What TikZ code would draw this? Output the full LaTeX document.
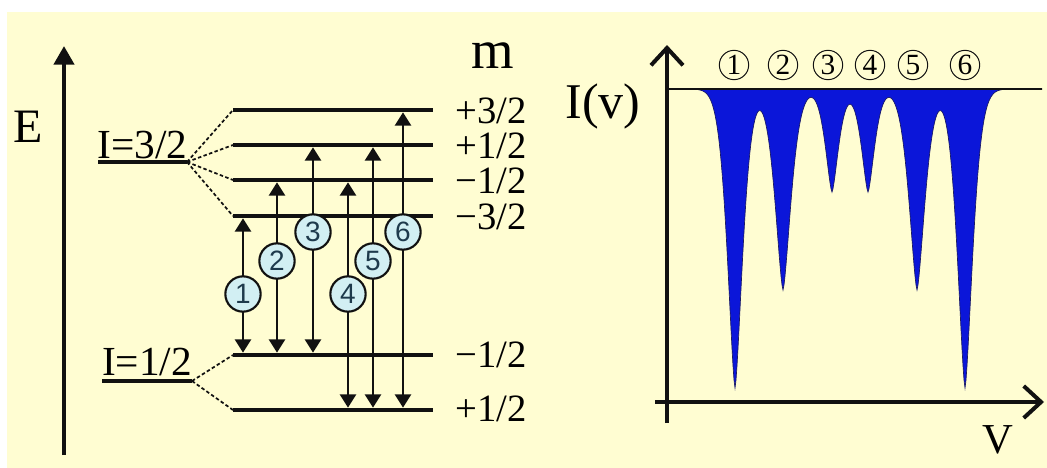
\documentclass[tikz,border=0pt]{standalone}
\usepackage{fontspec}
\setmainfont{Liberation Serif}
\setsansfont{Liberation Sans}
\usetikzlibrary{arrows.meta,positioning}
\definecolor{paper}{HTML}{FFFDD2}
\definecolor{ink}{HTML}{111111}
\definecolor{tagfill}{HTML}{D2EFF3}
\definecolor{tagink}{HTML}{1E3A4C}
\definecolor{specblue}{HTML}{0B16D9}
\definecolor{specedge}{HTML}{1A1A66}
\newcommand{\pxfont}[1]{\fontsize{#1}{#1}\selectfont}
\tikzset{
  level/.style={draw=ink,line width=3.5pt},
  uline/.style={draw=ink,line width=2.4pt},
  splitline/.style={draw=ink,line width=1.3pt,dash pattern=on 2.6pt off 1.8pt},
  trans/.style={{Triangle[length=10pt,width=12pt]}-{Triangle[length=10pt,width=12pt]},
                line width=2pt,draw=ink,shorten <=1.75pt,shorten >=1.75pt},
  tagcirc/.style={circle,draw=ink,line width=1.6pt,fill=tagfill,minimum size=26.5pt,
                  inner sep=0pt,font=\sffamily\pxfont{21}\color{tagink}},
  peaktag/.style={circle,draw=ink,line width=0.75pt,minimum size=22pt,inner sep=0pt,
                  font=\pxfont{22}},
  mlabel/.style={anchor=base west,inner sep=0pt,font=\pxfont{29}},
  biglabel/.style={anchor=base,inner sep=0pt},
  axisarr/.style={-{Straight Barb[length=13pt,width=24pt]},line width=3pt,draw=ink},
  declare function={dip(\vv,\cc,\dd,\aa)=\dd*exp(-min(abs(\vv-\cc)/\aa*sqrt(abs(\vv-\cc)/\aa),15));}
}

\begin{document}
\begin{tikzpicture}[x=0.75pt,y=-0.75pt]
  \useasboundingbox (0,0) rectangle (1047,468);
  \fill[white] (0,0) rectangle (1047,468);
  \fill[paper] (7,12) rectangle (1047,468);

  % energy axis
  \coordinate (ebot) at (64,455);
  \coordinate (etop) at (64,46);
  \draw[-{Triangle[length=14pt,width=15pt]},line width=3.2pt,draw=ink] (ebot) -- (etop);
  \node[biglabel,font=\pxfont{36}] (elbl) at (28,142) {E};
  \node[biglabel,font=\pxfont{41}] (mlbl) at (493,68) {m};

  % sublevels
  \coordinate (U1) at (233,110);
  \coordinate (U2) at (233,145);
  \coordinate (U3) at (233,180);
  \coordinate (U4) at (233,216);
  \coordinate (L1) at (233,355);
  \coordinate (L2) at (233,410);
  \coordinate (rr) at (433,0);
  \foreach \u in {U1,U2,U3,U4,L1,L2}
    \draw[level] (\u) -- (\u -| rr);

  \node[mlabel] (m1) at (455,123) {+3/2};
  \node[mlabel] (m2) at (455,158) {+1/2};
  \node[mlabel] (m3) at (455,193) {−1/2};
  \node[mlabel] (m4) at (455,229) {−3/2};
  \node[mlabel] (m5) at (455,367) {−1/2};
  \node[mlabel] (m6) at (455,421) {+1/2};

  % spin states and splitting
  \node[biglabel,font=\pxfont{31}] (i32) at (142.5,158) {I=3/2};
  \coordinate (a32) at (98,162);
  \coordinate (s32) at (187,162);
  \draw[uline] (a32) -- (s32);
  \node[biglabel,font=\pxfont{31}] (i12) at (147,375) {I=1/2};
  \coordinate (a12) at (102,381);
  \coordinate (s12) at (192,381);
  \draw[uline] (a12) -- (s12);
  \foreach \u in {U1,U2,U3,U4}
    \draw[splitline] (s32) -- (\u);
  \foreach \u in {L1,L2}
    \draw[splitline] (s12) -- (\u);

  % transitions
  \foreach \n/\xx/\lo/\hi/\ty in {1/243/L1/U4/294,2/277/L1/U3/261,3/313/L1/U2/232,
                                 4/348/L2/U3/294,5/373/L2/U2/261,6/403/L2/U1/232}{
    \coordinate (x\n) at (\xx,0);
    \draw[trans] (x\n |- \lo) -- (x\n |- \hi);
    \node[tagcirc] (t\n) at (\xx,\ty) {\n};
  }

  % spectrum
  \fill[specblue,draw=specedge,line width=0.5pt] (667,89)
    -- plot[domain=667:1042,samples=376]
       (\x,{89+dip(\x,735,299,11)+dip(\x,783,201,11.5)+dip(\x,832,103,9.5)
              +dip(\x,868,103,9.5)+dip(\x,917,201,11.5)+dip(\x,965,299,11)})
    -- (1042,89) -- cycle;
  \coordinate (b0) at (667,89);
  \coordinate (b1) at (1042,89);
  \draw[line width=1.1pt,draw=ink] (b0) -- (b1);

  \coordinate (ybot) at (667,423);
  \coordinate (ytop) at (667,45);
  \coordinate (xleft) at (655,402);
  \coordinate (xright) at (1044,402);
  \draw[axisarr] (ybot) -- (ytop);
  \draw[axisarr] (xleft) -- (xright);
  \node[biglabel,font=\pxfont{37.5}] (ilbl) at (603,118) {I(v)};
  \node[biglabel,font=\pxfont{32}] (vlbl) at (998,453) {V};

  \foreach \n/\xx in {1/734,2/783,3/828,4/870,5/913,6/965}
    \node[peaktag] (p\n) at (\xx,65) {\n};
\end{tikzpicture}
\end{document}
